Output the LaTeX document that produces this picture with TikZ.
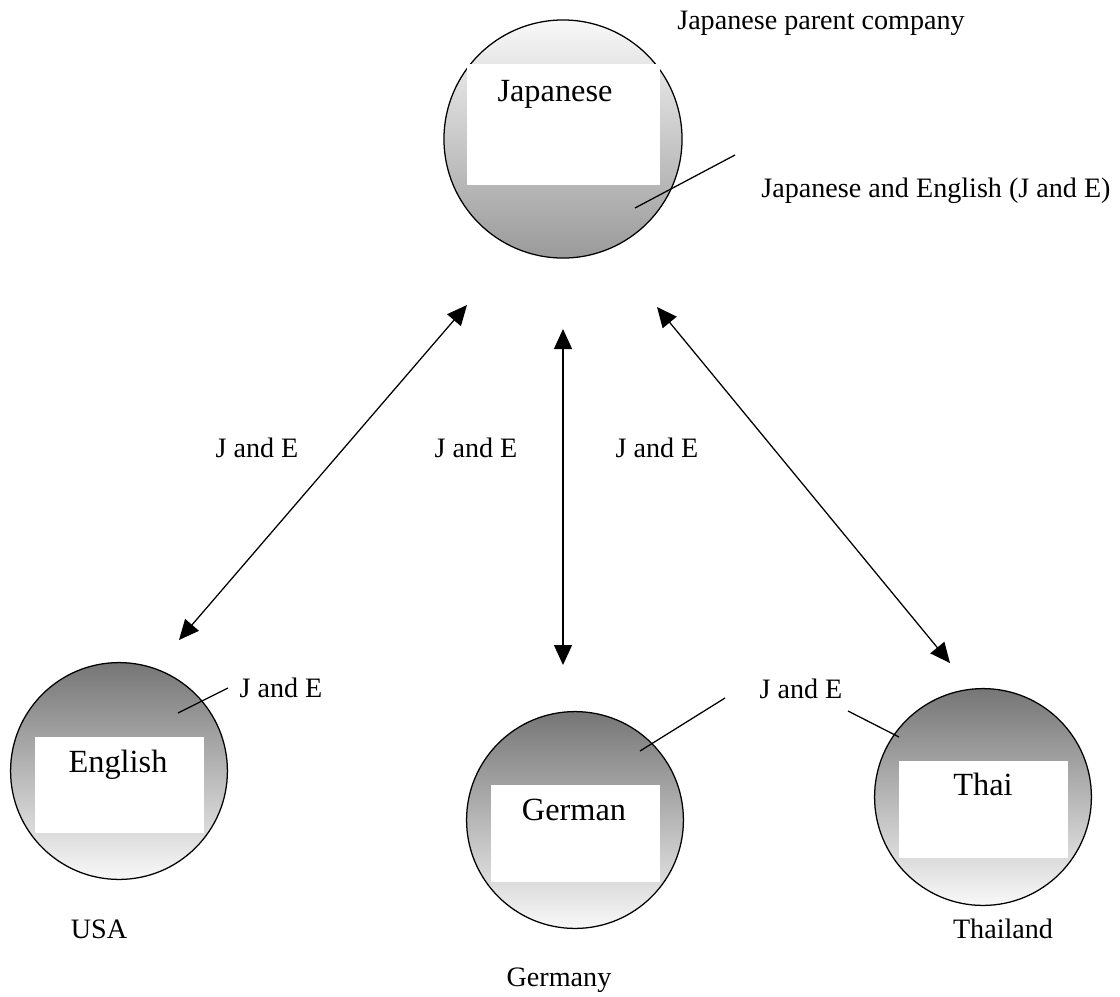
\documentclass[tikz,border=0pt]{standalone}
\usepackage{fontspec}
\setmainfont{Liberation Serif}
\usepackage{tikz}
\usetikzlibrary{arrows.meta, positioning}
\definecolor{ballhi}{RGB}{248, 248, 248}
\definecolor{balllo}{RGB}{118, 118, 118}
\definecolor{balljp}{RGB}{154, 154, 154}

\begin{document}
\begin{tikzpicture}[
    x=0.025cm, y=-0.025cm,
    >={Triangle[length=0.5cm, width=0.45cm]},
    ball/.style={circle, draw, line width=0.9pt, minimum size=5.42cm,
      top color=balllo, bottom color=ballhi, inner sep=0pt},
    jpball/.style={ball, minimum size=5.95cm,
      top color=ballhi, bottom color=balljp},
    box/.style n args={2}{rectangle, fill=white, inner sep=0pt,
      minimum width=#1, minimum height=#2},
    lang/.style={anchor=base, font=\fontsize{23}{27}\selectfont},
    tag/.style={anchor=base, font=\fontsize{20}{24}\selectfont},
    conn/.style={<->, line width=0.9pt},
    ptr/.style={line width=0.9pt}
  ]
  \useasboundingbox (0,0) rectangle (1120,996);
  % circles
  \node[jpball] (jp) at (563,139) {};
  \node[ball] (en) at (119,771) {};
  \node[ball] (de) at (575,820) {};
  \node[ball] (th) at (983,797) {};
  % white panels
  \node[box={4.825cm}{3.025cm}] (jpbox) at (563.5,124.5) {};
  \node[box={4.225cm}{2.4cm}] (enbox) at (119.5,785) {};
  \node[box={4.225cm}{2.425cm}] (debox) at (575.5,833.5) {};
  \node[box={4.225cm}{2.425cm}] (thbox) at (983.5,809.5) {};
  \node[lang] (jptxt) at (555,101) {Japanese};
  \node[lang] (entxt) at (118,772) {English};
  \node[lang] (detxt) at (574,820) {German};
  \node[lang] (thtxt) at (983,795) {Thai};
  % labels
  \node[tag] (parent) at (821,29) {Japanese parent company};
  \node[tag] (jpcomm) at (936,197) {Japanese and English (J and E)};
  \node[tag] (encomm) at (281,697) {J and E};
  \node[tag] (dthcomm) at (801,698) {J and E};
  \node[tag] (l1) at (257,457) {J and E};
  \node[tag] (l2) at (476,457) {J and E};
  \node[tag] (l3) at (657,457) {J and E};
  \node[tag] (usa) at (99,938) {USA};
  \node[tag] (ger) at (559,986) {Germany};
  \node[tag] (tha) at (1003,938) {Thailand};
  % arrow ends
  \coordinate (a1) at (467,305);
  \coordinate (a2) at (179,640);
  \coordinate (b1) at (563,329);
  \coordinate (b2) at (563,665);
  \coordinate (c1) at (657,307);
  \coordinate (c2) at (950,663);
  \foreach \a/\b in {a1/a2, b1/b2, c1/c2} {
    \draw[conn] (\a) -- (\b);
  }
  % pointers
  \coordinate (p1) at (635,208);
  \coordinate (q1) at (735,155);
  \coordinate (p2) at (178,713);
  \coordinate (q2) at (228,688);
  \coordinate (p3) at (640,751);
  \coordinate (q3) at (725,698);
  \coordinate (p4) at (899,737);
  \coordinate (q4) at (848,711);
  \foreach \a/\b in {p1/q1, p2/q2, p3/q3, p4/q4} {
    \draw[ptr] (\a) -- (\b);
  }
\end{tikzpicture}
\end{document}
